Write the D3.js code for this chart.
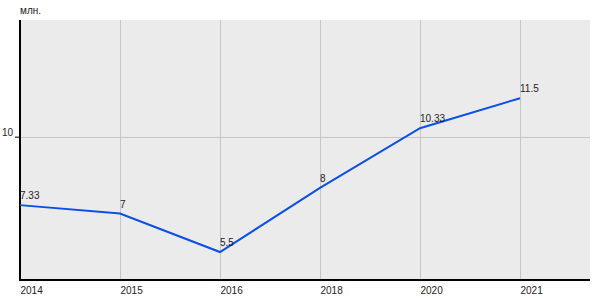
<!DOCTYPE html>
<html>
<head>
<meta charset="utf-8">
<script src="https://cdn.jsdelivr.net/npm/d3@7"></script>
<style>
  body { margin: 0; background: #fff; }
  svg { display: block; font-family: "Liberation Sans", Arial, sans-serif; }
</style>
</head>
<body>
<div id="chart"></div>
<script>
'use strict';

// Data
const years = ['2014', '2015', '2016', '2018', '2020', '2021'];
const values = [7.33, 7, 5.5, 8, 10.33, 11.5];
const valueLabels = ['7.33', '7', '5.5', '8', '10.33', '11.5'];
const yTicks = [10];
const unitLabel = 'млн.';

const width = 600, height = 300;
const plotLeft = 20, plotRight = 590, plotTop = 20, plotBottom = 280;

const svg = d3.select('#chart').append('svg')
    .attr('width', width).attr('height', height);

// categories are evenly spaced, plot runs a bit past the last one
let x = d3.scaleLinear().domain([0, 5.7]).range([plotLeft, plotRight]);
let y = d3.scaleLinear().domain([4.41, 14.55]).range([plotBottom, plotTop]);

// Plot background
svg.append('rect')
    .attr('x', plotLeft).attr('y', plotTop)
    .attr('width', plotRight - plotLeft).attr('height', plotBottom - plotTop)
    .attr('fill', '#ebebeb');

// Vertical grid
svg.selectAll('line.vgrid')
    .data(years.slice(1))
    .join('line')
    .classed('vgrid', true)
    .attr('x1', (d, i) => Math.round(x(i + 1)) + 0.5)
    .attr('x2', (d, i) => Math.round(x(i + 1)) + 0.5)
    .attr('y1', plotTop).attr('y2', plotBottom)
    .attr('stroke', '#c6c6c6').attr('stroke-width', 1);

// Horizontal grid
svg.selectAll('line.hgrid')
    .data(yTicks)
    .join('line')
    .classed('hgrid', true)
    .attr('x1', plotLeft).attr('x2', plotRight)
    .attr('y1', d => Math.round(y(d)) + 0.5)
    .attr('y2', d => Math.round(y(d)) + 0.5)
    .attr('stroke', '#c6c6c6').attr('stroke-width', 1);

// Y axis
let yAxis = svg.append('g')
    .attr('transform', `translate(${plotLeft},0)`)
    .call(d3.axisLeft(y).tickValues(yTicks).tickSize(5).tickPadding(2).tickFormat(d3.format('d')));
yAxis.select('.domain').remove();
yAxis.selectAll('.tick line').attr('stroke', '#000');
yAxis.selectAll('.tick text')
    .attr('dy', '-0.1em')
    .attr('font-size', 10).attr('fill', '#222')
    .attr('font-family', '"Liberation Sans", Arial, sans-serif');

// X axis
let xAxis = svg.append('g')
    .attr('transform', `translate(0,${plotBottom})`)
    .call(d3.axisBottom(x).tickValues(d3.range(years.length)).tickSize(0).tickPadding(7)
        .tickFormat(i => years[i]));
xAxis.select('.domain').remove();
xAxis.selectAll('.tick text')
    .attr('text-anchor', 'start')
    .attr('font-size', 10).attr('fill', '#222')
    .attr('font-family', '"Liberation Sans", Arial, sans-serif');

// Axis lines
svg.append('line')
    .attr('x1', plotLeft).attr('x2', plotLeft).attr('y1', plotTop).attr('y2', plotBottom + 1)
    .attr('stroke', '#000').attr('stroke-width', 2);
svg.append('line')
    .attr('x1', plotLeft - 1).attr('x2', plotRight).attr('y1', plotBottom).attr('y2', plotBottom)
    .attr('stroke', '#000').attr('stroke-width', 2);

// Line
let lineGen = d3.line()
    .x((d, i) => x(i))
    .y(d => y(d));

svg.append('path')
    .datum(values)
    .attr('d', lineGen)
    .attr('fill', 'none')
    .attr('stroke', '#0a4fe6')
    .attr('stroke-width', 2);

// Value labels
svg.selectAll('text.val')
    .data(values)
    .join('text')
    .classed('val', true)
    .attr('x', (d, i) => x(i))
    .attr('y', d => y(d) - 6)
    .attr('font-size', 10)
    .attr('fill', '#222')
    .text((d, i) => valueLabels[i]);

// Unit label
svg.append('text')
    .attr('x', plotLeft).attr('y', 14)
    .attr('font-size', 10)
    .attr('fill', '#222')
    .text(unitLabel);
</script>
</body>
</html>
